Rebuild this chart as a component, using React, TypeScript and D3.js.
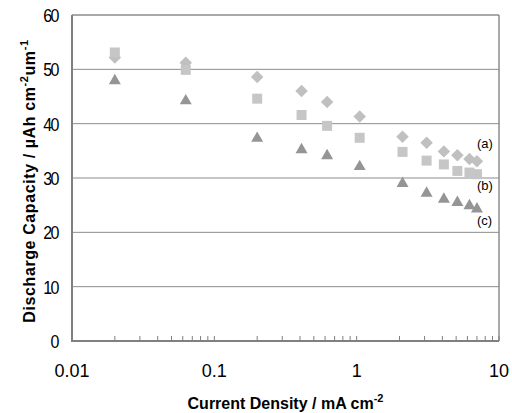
import React from 'react';
import * as d3 from 'd3';

// current density (mA cm^-2)
const density = [0.02, 0.063, 0.2, 0.41, 0.62, 1.05, 2.1, 3.1, 4.1, 5.1, 6.2, 7.0];
// discharge capacity series
const seriesA = [52.2, 51.2, 48.6, 46.0, 44.0, 41.3, 37.6, 36.5, 34.9, 34.2, 33.5, 33.1];
const seriesB = [53.1, 49.9, 44.6, 41.6, 39.6, 37.4, 34.8, 33.2, 32.5, 31.3, 31.0, 30.7];
const seriesC = [47.9, 44.2, 37.3, 35.2, 34.1, 32.1, 29.0, 27.2, 26.1, 25.5, 24.9, 24.3];
const yTicks = [0, 10, 20, 30, 40, 50, 60];
const xTicks = [0.01, 0.1, 1, 10];
const seriesLabels = ['(a)', '(b)', '(c)'];

const App = () => {
    const width = 512;
    const height = 413;
    const margin = { top: 15, right: 13, bottom: 72, left: 72 };

    const x = d3.scaleLog()
        .domain([0.01, 10])
        .range([margin.left, width - margin.right]);
    const y = d3.scaleLinear()
        .domain([0, 60])
        .range([height - margin.bottom, margin.top]);

    const minorTicks: number[] = [];
    [0.01, 0.1, 1].forEach(dec => {
        for (let k = 2; k <= 10; k++) minorTicks.push(dec * k);
    });

    const diamond = d3.symbol().type(d3.symbolSquare).size(78)();
    const square = d3.symbol().type(d3.symbolSquare).size(100)();
    const triangle = d3.symbol().type(d3.symbolTriangle).size(62)();

    const x0 = margin.left;
    const x1 = width - margin.right;
    const y0 = height - margin.bottom;
    const y1 = margin.top;
    const font = 'Arial, "Liberation Sans", sans-serif';

    return (
        <svg width={width} height={height} style={{ position: 'absolute', left: 0, top: 0 }}
            fontFamily={font}>
            <rect x={0} y={0} width={width} height={height} fill="#fff" />
            {/* grid */}
            {yTicks.filter(t => t > 0 && t < 60).map(t => (
                <line key={t} x1={x0} x2={x1} y1={y(t)} y2={y(t)} stroke="#8c8c8c" strokeWidth={1} />
            ))}
            {/* frame */}
            <line x1={x0} x2={x1} y1={y1} y2={y1} stroke="#8c8c8c" strokeWidth={1.5} />
            <line x1={x1} x2={x1} y1={y1} y2={y0} stroke="#8c8c8c" strokeWidth={1.5} />
            <line x1={x0} x2={x0} y1={y1} y2={y0 + 1} stroke="#808080" strokeWidth={2} />
            <line x1={x0 - 1} x2={x1} y1={y0} y2={y0} stroke="#808080" strokeWidth={2} />
            {minorTicks.map((t, i) => (
                <line key={i} x1={x(t)} x2={x(t)} y1={y0} y2={y0 - 5} stroke="#808080" strokeWidth={1} />
            ))}
            {/* tick labels */}
            {yTicks.map(t => (
                <text key={t} textAnchor="end" fontSize={16} letterSpacing={-1.5} fill="#000"
                    transform={`translate(${x0 - 14},${y(t)}) scale(1,1.2)`} dy="0.36em">{t}</text>
            ))}
            {xTicks.map(t => (
                <text key={t} x={x(t)} y={377} textAnchor="middle" fontSize={18} fill="#000">{t}</text>
            ))}
            {/* markers */}
            {density.map((d, i) => (
                <path key={'a' + i} d={diamond} fill="#c0c0c0"
                    transform={`translate(${x(d)},${y(seriesA[i])}) rotate(45)`} />
            ))}
            {density.map((d, i) => (
                <path key={'b' + i} d={square} fill="#c6c6c6"
                    transform={`translate(${x(d)},${y(seriesB[i])})`} />
            ))}
            {density.map((d, i) => (
                <path key={'c' + i} d={triangle} fill="#959595"
                    transform={`translate(${x(d)},${y(seriesC[i])})`} />
            ))}
            {/* series labels */}
            <text x={477} y={148} fontSize={13}>{seriesLabels[0]}</text>
            <text x={477} y={190} fontSize={13}>{seriesLabels[1]}</text>
            <text x={477} y={225} fontSize={13}>{seriesLabels[2]}</text>
            {/* axis titles */}
            <text x={(x0 + x1) / 2} y={409} textAnchor="middle" fontSize={16} fontWeight="bold">
                Current Density / mA cm<tspan dy={-7} fontSize={11}>-2</tspan>
            </text>
            <text transform={`translate(35,${(y0 + y1) / 2 + 3}) rotate(-90)`} textAnchor="middle"
                fontSize={16} fontWeight="bold" letterSpacing={0.6}>
                Discharge Capacity / µAh cm<tspan dy={-7} fontSize={11}>-2</tspan>
                <tspan dy={7}>um</tspan><tspan dy={-7} fontSize={11}>-1</tspan>
            </text>
        </svg>
    );
};

export default App;
